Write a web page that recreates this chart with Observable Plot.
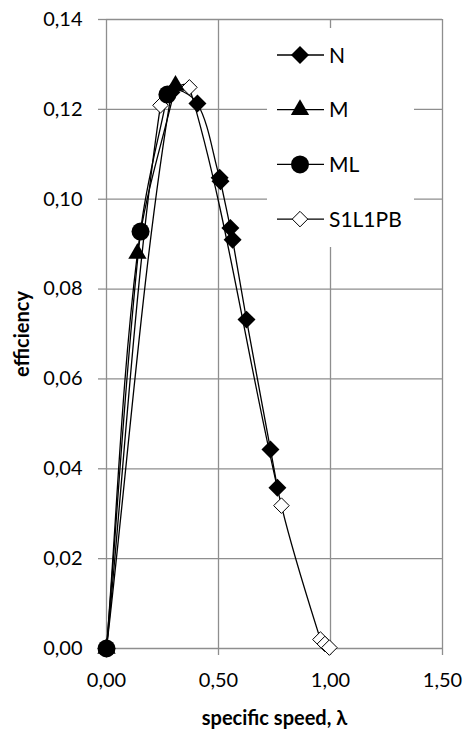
<!DOCTYPE html>
<html><head><meta charset="utf-8">
<script src="https://cdn.jsdelivr.net/npm/d3@7"></script>
<script src="https://cdn.jsdelivr.net/npm/@observablehq/plot@0.6"></script>
<style>
body{margin:0;background:#fff}
#chart{position:relative;width:467px;height:744px;font-family:Lato,"Open Sans",sans-serif}
#legend{position:absolute;left:0;top:0}
</style>
</head><body><div id="chart"></div>
<script>
const seriesNames = ["N", "M", "ML", "S1L1PB"];
const N_x = [0, 0.29, 0.406, 0.505, 0.509, 0.553, 0.563, 0.625, 0.732, 0.763];
const N_y = [0, 0.1238, 0.1213, 0.1048, 0.1040, 0.0936, 0.0910, 0.0732, 0.0443, 0.0358];
const M_x = [0, 0.138, 0.308];
const M_y = [0, 0.0879, 0.1253];
const ML_x = [0, 0.152, 0.272];
const ML_y = [0, 0.0928, 0.1233];
const S_x = [0, 0.241, 0.370, 0.781, 0.955, 0.975, 0.995];
const S_y = [0, 0.1209, 0.1249, 0.0318, 0.0020, 0.0010, 0.0002];
const xTicks = [0, 0.5, 1.0, 1.5];
const yTicks = [0, 0.02, 0.04, 0.06, 0.08, 0.10, 0.12, 0.14];

const xs = [N_x, M_x, ML_x, S_x], ys = [N_y, M_y, ML_y, S_y];
const rows = seriesNames.flatMap((s, i) => xs[i].map((x, j) => ({series: s, x, y: ys[i][j]})));
const fmt = d => d.toFixed(2).replace(".", ",");

// spreadsheet-style smoothed line: Bezier arms scaled by neighbouring segment lengths
function smoothCurve(context) {
  let pts;
  return {
    areaStart() {}, areaEnd() {},
    lineStart() { pts = []; },
    point(x, y) { pts.push([+x, +y]); },
    lineEnd() {
      const n = pts.length;
      if (!n) return;
      context.moveTo(pts[0][0], pts[0][1]);
      const dist = (a, b) => Math.hypot(b[0] - a[0], b[1] - a[1]);
      for (let i = 0; i < n - 1; i++) {
        const p0 = pts[Math.max(i - 1, 0)], p1 = pts[i], p2 = pts[i + 1], p3 = pts[Math.min(i + 2, n - 1)];
        const d01 = dist(p0, p1), d12 = dist(p1, p2), d23 = dist(p2, p3);
        const w1 = d12 / ((d01 + d12) || 1), w2 = d12 / ((d12 + d23) || 1);
        context.bezierCurveTo(
          p1[0] + (p2[0] - p0[0]) * w1 / 3, p1[1] + (p2[1] - p0[1]) * w1 / 3,
          p2[0] - (p3[0] - p1[0]) * w2 / 3, p2[1] - (p3[1] - p1[1]) * w2 / 3,
          p2[0], p2[1]);
      }
    }
  };
}

const style = {
  N: {symbol: "diamond2", r: 8.1, fill: "black", stroke: "none"},
  M: {symbol: "triangle", r: 6.8, fill: "black", stroke: "none"},
  ML: {symbol: "circle", r: 9, fill: "black", stroke: "none"},
  S1L1PB: {symbol: "diamond2", r: 7, fill: "white", stroke: "black"}
};
const markerOrder = ["S1L1PB", "N", "M", "ML"];
const grid = "#8e8e8e";
const FONT = "Lato, 'Open Sans', sans-serif";

const chart = Plot.plot({
  width: 467, height: 744,
  marginLeft: 106, marginRight: 25, marginTop: 19, marginBottom: 96,
  style: {fontFamily: FONT, fontSize: "20px", color: "#000", background: "#fff"},
  x: {domain: [0, 1.5]},
  y: {domain: [0, 0.14]},
  marks: [
    Plot.gridY(yTicks, {stroke: grid, strokeOpacity: 1, strokeWidth: 1.3}),
    Plot.gridX(xTicks.slice(1), {stroke: grid, strokeOpacity: 1, strokeWidth: 1.3}),
    Plot.ruleX([0], {stroke: grid, strokeWidth: 1.3}),
    Plot.axisY(yTicks, {tickFormat: fmt, tickSize: 8, tickPadding: 16, stroke: grid, strokeWidth: 1.3,
      label: "efficiency", labelArrow: "none", labelAnchor: "center", labelOffset: 92, fontSize: 20}),
    Plot.axisX(xTicks, {tickFormat: fmt, tickSize: 7, tickPadding: 17, stroke: grid, strokeWidth: 1.3,
      label: "specific speed, λ", labelArrow: "none", labelAnchor: "center", labelOffset: 76, fontSize: 20}),
    ...seriesNames.map(s => Plot.line(rows.filter(d => d.series === s),
      {x: "x", y: "y", curve: smoothCurve, stroke: "black", strokeWidth: 1.3})),
    ...markerOrder.map(s => Plot.dot(rows.filter(d => d.series === s),
      {x: "x", y: "y", symbol: () => style[s].symbol, r: style[s].r, fill: style[s].fill,
       stroke: style[s].stroke, strokeWidth: 1}))
  ]
});
chart.querySelectorAll("g[aria-label='y-axis label'] text, g[aria-label='x-axis label'] text").forEach(t => {
  t.setAttribute("font-weight", "bold");
  t.textContent = t.textContent.replace(/\s*[→↑]\s*/g, "").replace(/^[←↓]\s*/, "");
});
document.getElementById("chart").appendChild(chart);

// legend overlay
const lg = d3.select("#chart").append("svg").attr("id", "legend").attr("width", 467).attr("height", 744);
lg.append("rect").attr("x", 267).attr("y", 28).attr("width", 147).attr("height", 219).attr("fill", "white");
const symMap = {diamond2: d3.symbolDiamond2, triangle: d3.symbolTriangle, circle: d3.symbolCircle};
seriesNames.forEach((s, i) => {
  const y = 55 + i * 54.7;
  const g = lg.append("g");
  g.append("line").attr("x1", 277).attr("x2", 324).attr("y1", y).attr("y2", y).attr("stroke", "black").attr("stroke-width", 1.3);
  g.append("path").attr("transform", `translate(300,${y})`)
    .attr("d", d3.symbol(symMap[style[s].symbol], Math.PI * style[s].r ** 2)())
    .attr("fill", style[s].fill).attr("stroke", style[s].stroke);
  g.append("text").attr("x", 329).attr("y", y).attr("dy", "0.36em").attr("font-size", 21).attr("font-family", FONT).text(s);
});
</script>
</body></html>
